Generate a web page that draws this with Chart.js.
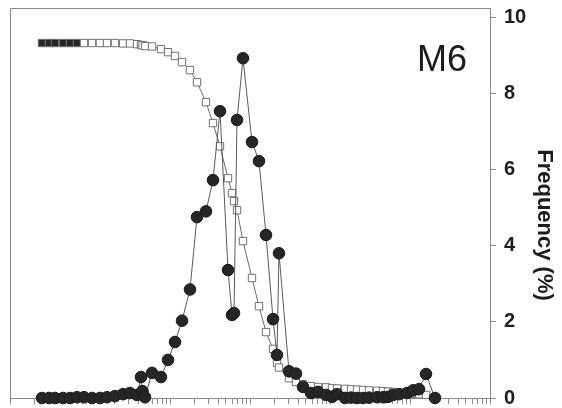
<!DOCTYPE html>
<html lang="en">
<head>
    <meta charset="UTF-8">
    <title>M6 Frequency</title>
    <script src="https://cdn.jsdelivr.net/npm/chart.js"></script>
    <style>
        body {
            margin: 0;
            background: #fff;
        }
        .wrap {
            width: 562px;
            height: 408px;
        }
    </style>
</head>
<body>
<div class="wrap">
    <canvas id="freqChart"></canvas>
</div>

<script>
    // grain size classes (log axis, no labels in the figure)
    const sizes = [
        0.0251, 0.0307, 0.0365, 0.0460, 0.0562, 0.0688, 0.0841, 0.106, 0.133, 0.163,
        0.205, 0.259, 0.316, 0.387, 0.434, 0.453, 0.487, 0.596, 0.772, 0.944,
        1.155, 1.413, 1.778, 2.175, 2.818, 3.447, 4.217, 5.309, 5.957, 6.310,
        6.880, 8.175, 10.59, 12.95, 15.85, 19.39, 21.75, 23.04, 30.72, 37.58,
        45.97, 57.88, 70.79, 89.13, 105.9, 122.3, 154.0, 183.0, 217.5, 258.5,
        307.2, 386.7, 459.7, 530.9, 613.1, 728.8, 917.5, 1090, 1296, 1585,
        2054
    ];
    // frequency (%) - filled circles
    const frequency = [
        0, 0, 0, 0, 0, 0.02, 0.02, 0, 0, 0.02,
        0.05, 0.1, 0.13, 0.08, 0.55, 0.18, 0.02, 0.66, 0.55, 1.0,
        1.47, 2.03, 2.85, 4.75, 4.9, 5.72, 7.53, 3.36, 2.18, 2.23,
        7.3, 8.92, 6.72, 6.22, 4.28, 2.07, 1.13, 3.8, 0.7, 0.64,
        0.29, 0.13, 0.16, 0.08, 0.03, 0.1, 0, 0.01, 0, 0,
        0.01, 0.02, 0.02, 0.03, 0.08, 0.1, 0.13, 0.2, 0.23, 0.63,
        0
    ];
    // second series - open squares
    const cumulative = [
        9.32, 9.32, 9.32, 9.32, 9.32, 9.32, 9.32, 9.32, 9.32, 9.32,
        9.32, 9.31, 9.31, 9.29, 9.27, 9.26, 9.24, 9.23, 9.16, 9.08,
        8.98, 8.82, 8.61, 8.29, 7.77, 7.22, 6.61, 5.77, 5.38, 5.17,
        4.93, 4.12, 3.15, 2.41, 1.73, 1.29, 0.92, 0.8, 0.52, 0.42,
        0.36, 0.31, 0.29, 0.28, 0.26, 0.25, 0.24, 0.23, 0.22, 0.21,
        0.2, 0.19, 0.18, 0.17, 0.16, 0.14, 0.12, 0.11, 0.1, 0.08,
        0.02
    ];
    const yTicks = [0, 2, 4, 6, 8, 10];
    const xDecades = [0.01, 0.1, 1, 10, 100, 1000];
    const sampleName = 'M6';
    const yTitle = 'Frequency (%)';

    const axisColor = '#8a8a8a';
    const textColor = '#1c1c1c';
    const fontFamily = 'Arial, "Liberation Sans", sans-serif';

    // frame + labels drawn on top of the library's axes
    const framePlugin = {
        id: 'frame',
        beforeDatasetsDraw(chart) {
            const {ctx, chartArea} = chart;
            ctx.save();
            ctx.strokeStyle = axisColor;
            ctx.lineWidth = 1;
            ctx.beginPath();
            ctx.moveTo(chartArea.left + 0.5, chartArea.bottom);
            ctx.lineTo(chartArea.left + 0.5, chartArea.top + 0.5);
            ctx.lineTo(chartArea.right, chartArea.top + 0.5);
            ctx.stroke();
            ctx.restore();
        },
        afterDraw(chart) {
            const {ctx, chartArea} = chart;
            ctx.save();
            ctx.fillStyle = textColor;
            ctx.font = '36px ' + fontFamily;
            ctx.textAlign = 'right';
            ctx.textBaseline = 'alphabetic';
            ctx.fillText(sampleName, chartArea.right - 23, 71);

            ctx.font = 'bold 22px ' + fontFamily;
            ctx.translate(544, 225);
            ctx.rotate(Math.PI / 2);
            ctx.textAlign = 'center';
            ctx.textBaseline = 'middle';
            ctx.fillText(yTitle, 0, 0);
            ctx.restore();
        }
    };

    const ctx = document.getElementById('freqChart').getContext('2d');
    new Chart(ctx, {
        type: 'scatter',
        data: {
            datasets: [{
                label: 'Frequency',
                data: sizes.map((s, i) => ({x: s, y: frequency[i]})),
                showLine: true,
                borderColor: '#5a5a5a',
                borderWidth: 1,
                pointStyle: 'circle',
                pointRadius: 5.8,
                pointBackgroundColor: '#262626',
                pointBorderColor: '#1a1a1a',
                pointBorderWidth: 1,
                clip: false
            }, {
                label: 'Cumulative',
                data: sizes.map((s, i) => ({x: s, y: cumulative[i]})),
                showLine: true,
                borderColor: '#6a6a6a',
                borderWidth: 1,
                pointStyle: 'rect',
                pointRadius: 5.2,
                pointBackgroundColor: c => c.dataIndex < 6 ? '#262626' : '#ffffff',
                pointBorderColor: '#707070',
                pointBorderWidth: 1,
                clip: false
            }]
        },
        options: {
            responsive: true,
            maintainAspectRatio: false,
            animation: false,
            layout: {
                padding: {left: 10, top: 8, right: 0, bottom: 0}
            },
            plugins: {
                legend: {display: false},
                tooltip: {enabled: false}
            },
            scales: {
                x: {
                    type: 'logarithmic',
                    min: 0.01,
                    max: 10000,
                    afterBuildTicks: scale => {
                        const ticks = [];
                        xDecades.forEach(d => {
                            for (let m = 1; m < 10; m++) {
                                ticks.push({value: d * m, major: m === 1});
                            }
                        });
                        ticks.push({value: 10000, major: true});
                        scale.ticks = ticks;
                    },
                    afterFit: scale => {
                        scale.height = 10;
                        scale.paddingLeft = 0;
                        scale.paddingRight = 0;
                    },
                    ticks: {display: false},
                    grid: {
                        drawOnChartArea: false,
                        drawTicks: true,
                        tickLength: 6,
                        color: axisColor
                    },
                    border: {display: true, color: axisColor}
                },
                y: {
                    position: 'right',
                    min: 0,
                    max: 10.24,
                    afterBuildTicks: scale => {
                        scale.ticks = yTicks.map(v => ({value: v}));
                    },
                    afterFit: scale => {
                        scale.width = 72;
                        scale.paddingTop = 0;
                        scale.paddingBottom = 0;
                    },
                    ticks: {
                        color: textColor,
                        padding: 8,
                        font: {family: fontFamily, size: 20, weight: 'bold'}
                    },
                    grid: {
                        drawOnChartArea: false,
                        tickLength: 6,
                        color: axisColor
                    },
                    border: {display: true, color: axisColor}
                }
            }
        },
        plugins: [framePlugin]
    });
</script>
</body>
</html>
